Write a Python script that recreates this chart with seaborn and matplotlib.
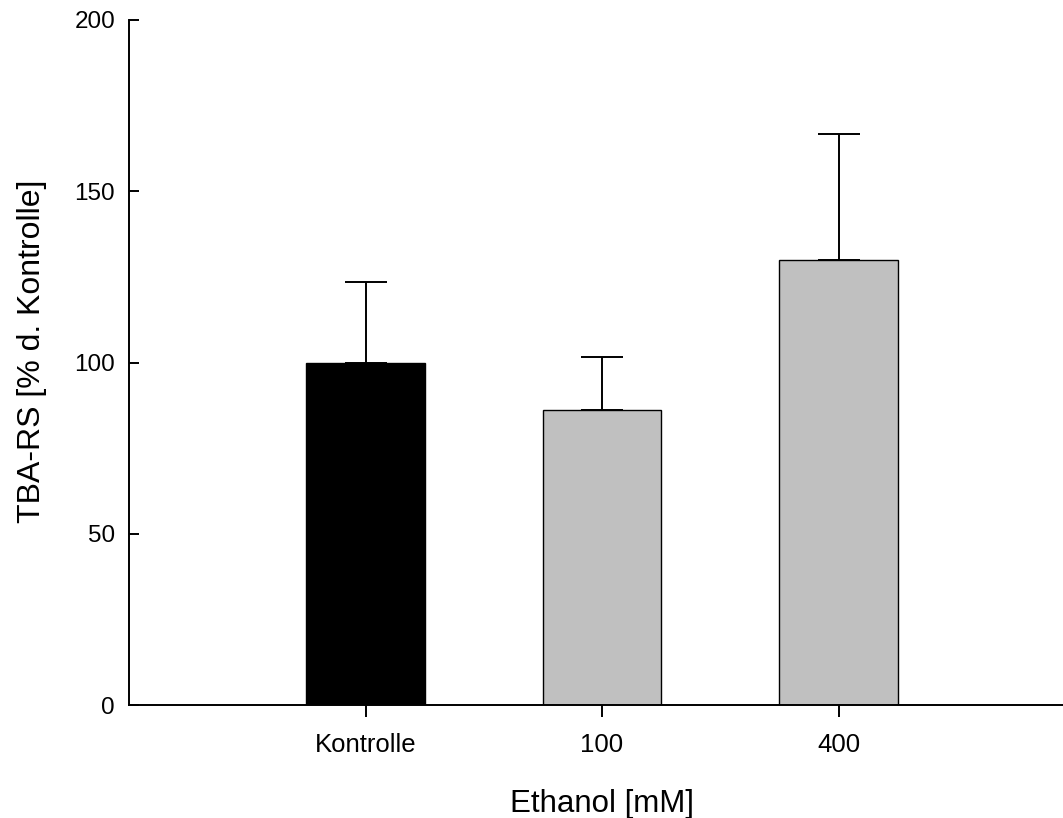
import matplotlib
matplotlib.use("Agg")
import matplotlib.pyplot as plt
import seaborn as sns
import pandas as pd

# Data
groups = ["Kontrolle", "100", "400"]
means = [100.0, 86.2, 129.8]
sem_upper = [23.5, 15.3, 36.8]
bar_colors = ["#000000", "#c0c0c0", "#c0c0c0"]

df = pd.DataFrame({"group": groups, "value": means})

sns.set_style("white")
plt.rcParams["font.family"] = ["Liberation Sans", "DejaVu Sans"]
plt.rcParams["text.color"] = "black"
plt.rcParams["axes.labelcolor"] = "black"
plt.rcParams["xtick.color"] = "black"
plt.rcParams["ytick.color"] = "black"

fig = plt.figure(figsize=(10.63, 8.18), dpi=100)
ax = fig.add_axes([129 / 1063, 1 - 705 / 818, (1075 - 129) / 1063, (705 - 20) / 818])

sns.barplot(data=df, x="group", y="value", hue="group", palette=bar_colors,
            legend=False, width=0.5, edgecolor="black", linewidth=1.0, ax=ax,
            errorbar=None, saturation=1)

ax.errorbar(range(len(groups)), means, yerr=[[0] * len(groups), sem_upper],
            fmt="none", ecolor="black", elinewidth=1.4, capsize=15, capthick=1.4)

ax.set_xlim(-1, 3)
ax.set_ylim(0, 200)
ax.set_yticks([0, 50, 100, 150, 200])

for s in ["top", "right"]:
    ax.spines[s].set_visible(False)
for s in ["left", "bottom"]:
    ax.spines[s].set_color("black")
    ax.spines[s].set_linewidth(1.4)

ax.tick_params(axis="y", direction="in", length=7, width=1.4, labelsize=17.5, pad=10, left=True)
ax.tick_params(axis="x", direction="out", length=8.5, width=1.4, labelsize=18.5, pad=12, bottom=True)

ax.set_xlabel("Ethanol [mM]", fontsize=22.5, labelpad=23)
ax.set_ylabel("TBA-RS [% d. Kontrolle]", fontsize=23)
ax.yaxis.set_label_coords(-0.087, 0.517)

fig.savefig("out.png", dpi=100)
